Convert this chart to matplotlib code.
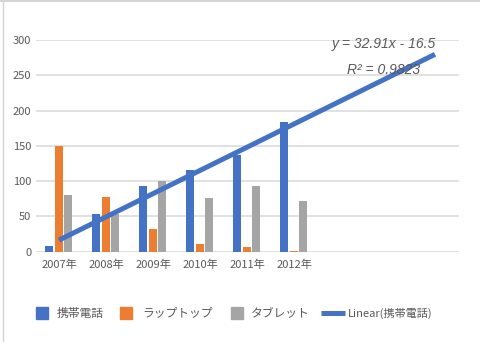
import numpy as np
import matplotlib.pyplot as plt
from matplotlib.patches import Rectangle
from matplotlib.lines import Line2D

plt.rcParams['font.family'] = ['Noto Sans CJK JP', 'DejaVu Sans']

# sales by year
years = ['2007年', '2008年', '2009年', '2010年', '2011年', '2012年']
mobile = [8, 54, 93, 116, 137, 184]
laptop = [150, 77, 32, 11, 6, 1]
tablet = [80, 54, 100, 76, 93, 72]

# linear trend for 携帯電話 (forecast 3 periods ahead)
trend_slope = 32.91
trend_intercept = -16.5
trend_r2 = 0.9823
trend_forward = 3

series_names = ['携帯電話', 'ラップトップ', 'タブレット']
colors = ['#4472C4', '#ED7D31', '#A5A5A5']
text_color = '#595959'

W, H = 480, 342
fig = plt.figure(figsize=(W / 100, H / 100), dpi=100)
ax = fig.add_axes([35.5 / W, 1 - 251.7 / H, 423 / W, 211.7 / H])

x = np.arange(1, len(years) + 1)
offsets = [-0.21, 0.0, 0.2]
for vals, off, c in zip([mobile, laptop, tablet], offsets, colors):
    ax.bar(x + off, vals, width=0.17, color=c, zorder=2)

xt = np.arange(1, len(years) + trend_forward + 1)
ax.plot(xt, trend_slope * xt + trend_intercept, color='#4472C4', lw=3.6,
        solid_capstyle='butt', zorder=3)

ax.set_xlim(0.5, len(years) + trend_forward + 0.5)
ax.set_ylim(0, 300)
ax.set_yticks(range(0, 301, 50))
ax.set_xticks(x)
ax.set_xticklabels(years)
ax.grid(axis='y', color='#D9D9D9', lw=1.1, zorder=0)
ax.tick_params(length=0, labelsize=8, labelcolor=text_color)
ax.tick_params(axis='y', pad=3)
ax.tick_params(axis='x', pad=6)
for s in ax.spines.values():
    s.set_visible(False)

eq = 'y = %.2fx - %.1f' % (trend_slope, -trend_intercept)
ax.text(436 / W, 1 - 44 / H, eq, transform=fig.transFigure, ha='right', va='center',
        family='Liberation Sans', style='italic', fontsize=10, color=text_color)
ax.text(420 / W, 1 - 70 / H, 'R² = %.4f' % trend_r2, transform=fig.transFigure,
        ha='right', va='center', family='Liberation Sans', style='italic',
        fontsize=10, color=text_color)

# legend row
ly = 1 - 313 / H
for x0, tx, name, c in zip([36, 120, 231], [57, 142, 251], series_names, colors):
    fig.add_artist(Rectangle((x0 / W, ly - 6 / H), 12 / W, 12 / H,
                             transform=fig.transFigure, color=c))
    fig.text(tx / W, ly, name, ha='left', va='center', fontsize=8.5, color=text_color)
fig.add_artist(Line2D([321 / W, 345 / W], [ly, ly], transform=fig.transFigure,
                      color='#4472C4', lw=3.6, solid_capstyle='butt'))
fig.text(348 / W, ly, 'Linear(携帯電話)', ha='left', va='center', fontsize=8,
         color=text_color)

# frame edges
fig.add_artist(Line2D([2.5 / W, 2.5 / W], [0, 1], transform=fig.transFigure,
                      color='#D4D4D4', lw=1))
fig.add_artist(Line2D([0, 1], [1 - 1 / H, 1 - 1 / H], transform=fig.transFigure,
                      color='#D4D4D4', lw=1.5))

fig.savefig('out.png', dpi=100)
